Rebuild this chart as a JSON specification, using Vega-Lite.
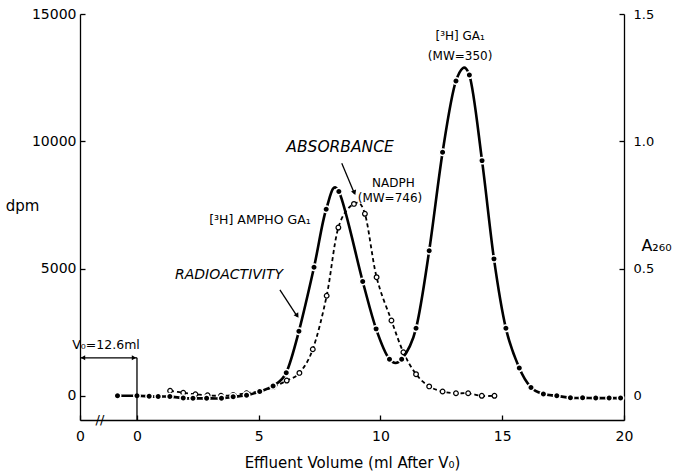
{
  "$schema": "https://vega.github.io/schema/vega-lite/v6.json",
  "width": 544,
  "height": 406,
  "autosize": {"type": "none"},
  "padding": {"left": 80, "top": 14, "right": 60, "bottom": 54},
  "background": "white",
  "config": {
    "view": {"stroke": null},
    "font": "DejaVu Sans",
    "axis": {
      "grid": false,
      "domainColor": "black",
      "domainWidth": 1.3,
      "tickColor": "black",
      "tickWidth": 1.3,
      "labelColor": "black",
      "titleColor": "black",
      "labelFont": "DejaVu Sans",
      "titleFont": "DejaVu Sans",
      "titleFontWeight": "normal",
      "labelFontSize": 13,
      "labelFlush": false,
      "labelOverlap": false
    }
  },
  "datasets": {
    "radio": [
      {"x": -0.8, "y": 0}, {"x": 0, "y": 0}, {"x": 0.5, "y": -20}, {"x": 0.87, "y": -30},
      {"x": 1.35, "y": -30}, {"x": 1.9, "y": -90}, {"x": 2.3, "y": -100}, {"x": 2.86, "y": -100},
      {"x": 3.47, "y": -100}, {"x": 3.95, "y": -40}, {"x": 4.5, "y": 20}, {"x": 5.04, "y": 170},
      {"x": 5.59, "y": 390}, {"x": 6.13, "y": 910}, {"x": 6.65, "y": 2540}, {"x": 7.27, "y": 5050},
      {"x": 7.77, "y": 7330}, {"x": 8.29, "y": 8030}, {"x": 9.27, "y": 4490}, {"x": 9.82, "y": 2630},
      {"x": 10.37, "y": 1440}, {"x": 10.87, "y": 1440}, {"x": 11.46, "y": 2650}, {"x": 12.0, "y": 5700},
      {"x": 12.55, "y": 9570}, {"x": 13.1, "y": 12370}, {"x": 13.65, "y": 12600}, {"x": 14.17, "y": 9240},
      {"x": 14.66, "y": 5380}, {"x": 15.15, "y": 2650}, {"x": 15.7, "y": 1090}, {"x": 16.18, "y": 330},
      {"x": 16.69, "y": 70}, {"x": 17.24, "y": 0}, {"x": 17.8, "y": -80}, {"x": 18.3, "y": -80},
      {"x": 18.84, "y": -90}, {"x": 19.39, "y": -90}, {"x": 19.86, "y": -90}
    ],
    "absorb": [
      {"x": 1.36, "a": 0.02}, {"x": 1.9, "a": 0.012}, {"x": 2.4, "a": 0.006}, {"x": 2.9, "a": 0.002},
      {"x": 3.45, "a": 0.0}, {"x": 3.95, "a": 0.003}, {"x": 4.5, "a": 0.01}, {"x": 5.05, "a": 0.018},
      {"x": 5.6, "a": 0.035}, {"x": 6.15, "a": 0.06}, {"x": 6.67, "a": 0.09}, {"x": 7.22, "a": 0.183},
      {"x": 7.79, "a": 0.393}, {"x": 8.27, "a": 0.661}, {"x": 8.91, "a": 0.754}, {"x": 9.36, "a": 0.715},
      {"x": 9.84, "a": 0.466}, {"x": 10.45, "a": 0.296}, {"x": 10.94, "a": 0.171}, {"x": 11.46, "a": 0.085},
      {"x": 12.0, "a": 0.037}, {"x": 12.55, "a": 0.017}, {"x": 13.1, "a": 0.01}, {"x": 13.6, "a": 0.01},
      {"x": 14.16, "a": 0.0}, {"x": 14.68, "a": 0.0}
    ]
  },
  "encoding": {
    "x": {
      "field": "x",
      "type": "quantitative",
      "scale": {"domain": [-2.34, 20], "nice": false, "zero": false},
      "axis": {
        "values": [-2.34, 0, 5, 10, 15, 20],
        "labelExpr": "datum.value < 0 ? '0' : datum.label",
        "tickSize": -5,
        "labelPadding": 14,
        "labelFontSize": 14,
        "title": "Effluent Volume (ml After V₀)",
        "titleFontSize": 15,
        "titleX": 272,
        "titleY": 42,
        "titleAlign": "center",
        "titleBaseline": "middle"
      }
    }
  },
  "resolve": {"scale": {"y": "independent"}},
  "layer": [
    {
      "data": {"name": "absorb"},
      "encoding": {
        "y": {
          "field": "a",
          "type": "quantitative",
          "scale": {"domain": [-0.095, 1.5], "nice": false, "zero": false},
          "axis": {
            "orient": "right",
            "values": [0, 0.5, 1.0, 1.5],
            "labelExpr": "datum.value == 0 ? '0' : format(datum.value, '.1f')",
            "tickSize": -5,
            "labelPadding": 14,
            "title": "A₂₆₀",
            "titleFontSize": 16,
            "titleAngle": 0,
            "titleX": 32,
            "titleY": 231,
            "titleAlign": "center",
            "titleBaseline": "middle"
          }
        }
      },
      "layer": [
        {"mark": {"type": "line", "interpolate": "cardinal", "color": "black", "strokeWidth": 1.8, "strokeDash": [4, 3]}},
        {"mark": {"type": "point", "shape": "circle", "filled": true, "fill": "white", "stroke": "black", "strokeWidth": 1.2, "size": 22, "opacity": 1}}
      ]
    },
    {
      "encoding": {
        "y": {
          "field": "y",
          "type": "quantitative",
          "scale": {"domain": [-950, 15000], "nice": false, "zero": false},
          "axis": {
            "orient": "left",
            "values": [0, 5000, 10000, 15000],
            "format": "d",
            "tickSize": -5,
            "labelPadding": 9,
            "labelFontSize": 14,
            "title": "dpm",
            "titleFontSize": 15,
            "titleAngle": 0,
            "titleX": -58,
            "titleY": 191,
            "titleAlign": "center",
            "titleBaseline": "middle"
          }
        }
      },
      "layer": [
        {
          "data": {"name": "radio"},
          "mark": {"type": "line", "interpolate": "cardinal", "color": "black", "strokeWidth": 2.6}
        },
        {
          "data": {"name": "radio"},
          "mark": {"type": "point", "shape": "circle", "filled": true, "fill": "black", "stroke": "white", "strokeWidth": 1.5, "size": 42, "opacity": 1}
        },
        {
          "data": {"values": [
            {"x": -2.34, "y": 1492, "x2": 0, "y2": 1492},
            {"x": 0, "y": 1492, "x2": 0, "y2": -950},
            {"x": 8.41, "y": 9138, "x2": 8.93, "y2": 7950},
            {"x": 5.87, "y": 4163, "x2": 6.58, "y2": 3120}
          ]},
          "mark": {"type": "rule", "color": "black", "strokeWidth": 1.3},
          "encoding": {"x2": {"field": "x2"}, "y2": {"field": "y2"}}
        },
        {
          "data": {"values": [{"x": 8.93, "y": 7980}]},
          "mark": {"type": "point", "shape": "triangle-down", "filled": true, "color": "black", "size": 30, "angle": -22, "opacity": 1}
        },
        {
          "data": {"values": [{"x": 6.58, "y": 3150}]},
          "mark": {"type": "point", "shape": "triangle-down", "filled": true, "color": "black", "size": 30, "angle": -33, "opacity": 1}
        },
        {
          "data": {"values": [{"x": -2.34, "y": 1492}]},
          "mark": {"type": "point", "shape": "triangle-left", "filled": true, "color": "black", "size": 25, "xOffset": 3, "opacity": 1}
        },
        {
          "data": {"values": [{"x": 0, "y": 1492}]},
          "mark": {"type": "point", "shape": "triangle-right", "filled": true, "color": "black", "size": 25, "xOffset": -3, "opacity": 1}
        },
        {
          "data": {"values": [
            {"x": 13.27, "y": 14137, "label": "[³H] GA₁"},
            {"x": 13.27, "y": 13352, "label": "(MW=350)"},
            {"x": 10.53, "y": 8353, "label": "NADPH"},
            {"x": 10.39, "y": 7764, "label": "(MW=746)"}
          ]},
          "mark": {"type": "text", "font": "DejaVu Sans", "fontSize": 12, "color": "black", "align": "center", "baseline": "middle"},
          "encoding": {"text": {"field": "label"}}
        },
        {
          "data": {"values": [
            {"x": 5.05, "y": 6912, "label": "[³H] AMPHO GA₁"},
            {"x": -1.27, "y": 2003, "label": "V₀=12.6ml"}
          ]},
          "mark": {"type": "text", "font": "DejaVu Sans", "fontSize": 12.5, "color": "black", "align": "center", "baseline": "middle"},
          "encoding": {"text": {"field": "label"}}
        },
        {
          "data": {"values": [{"x": 8.34, "y": 9778, "label": "ABSORBANCE"}]},
          "mark": {"type": "text", "font": "DejaVu Sans", "fontStyle": "italic", "fontSize": 15.5, "color": "black", "align": "center", "baseline": "middle"},
          "encoding": {"text": {"field": "label"}}
        },
        {
          "data": {"values": [{"x": 3.78, "y": 4752, "label": "RADIOACTIVITY"}]},
          "mark": {"type": "text", "font": "DejaVu Sans", "fontStyle": "italic", "fontSize": 14, "color": "black", "align": "center", "baseline": "middle"},
          "encoding": {"text": {"field": "label"}}
        },
        {
          "data": {"values": [{"x": -1.52, "y": -950, "label": "//"}]},
          "mark": {"type": "text", "font": "DejaVu Sans", "fontSize": 13, "color": "black", "align": "center", "baseline": "middle"},
          "encoding": {"text": {"field": "label"}}
        }
      ]
    }
  ]
}
